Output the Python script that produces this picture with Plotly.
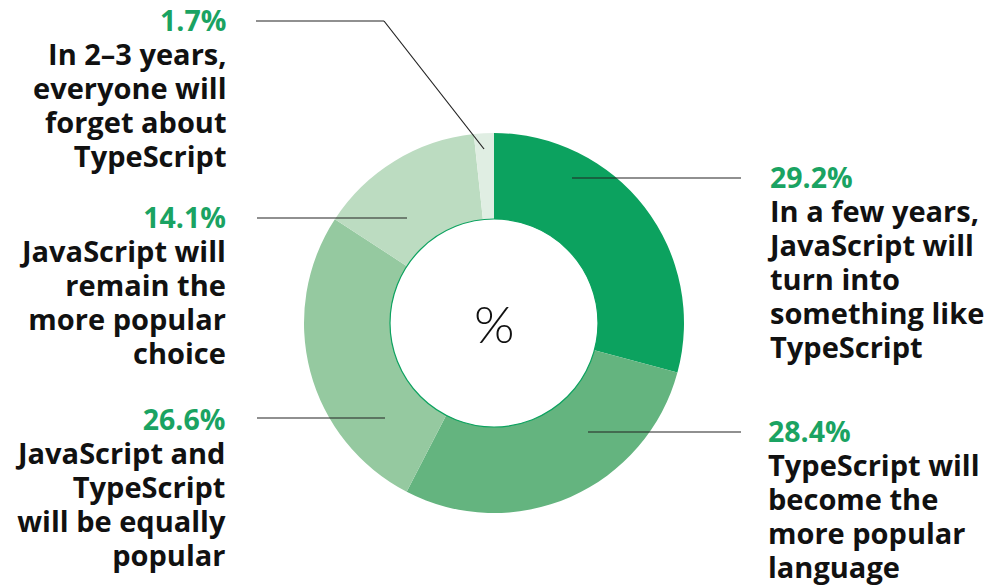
import plotly.graph_objects as go

# ---- data ----
label_lines = [
    ["In a few years,", "JavaScript will", "turn into", "something like", "TypeScript"],
    ["TypeScript will", "become the", "more popular", "language"],
    ["JavaScript and", "TypeScript", "will be equally", "popular"],
    ["JavaScript will", "remain the", "more popular", "choice"],
    ["In 2–3 years,", "everyone will", "forget about", "TypeScript"],
]
values = [29.2, 28.4, 26.6, 14.1, 1.7]
colors = ["#0ca25f", "#64b47f", "#95c9a0", "#bcdcc1", "#e0eee3"]

W, H = 991, 586
cx, cy, R, r_in = 494, 323, 190, 104

def px(x):
    return x / W

def py(y):
    return 1 - y / H

fig = go.Figure()
fig.add_trace(go.Pie(
    values=values,
    labels=[" ".join(l) for l in label_lines],
    marker=dict(colors=colors, line=dict(width=0)),
    sort=False,
    direction="clockwise",
    rotation=0,
    hole=r_in / R,
    textinfo="none",
    hoverinfo="label+percent",
    showlegend=False,
    domain=dict(x=[px(cx - R), px(cx + R)], y=[py(cy + R), py(cy - R)]),
))

# label placement: (x, baseline of percent line, align)
placements = [
    (766, 188, "left"),
    (767, 442, "left"),
    (227, 430, "right"),
    (227, 228, "right"),
    (227, 32, "right"),
]
# leader lines (pixel polyline)
leaders = [
    [(572, 178), (741, 178)],
    [(588, 432), (741, 432)],
    [(257, 418), (385, 418)],
    [(257, 218), (407, 218)],
    [(256, 21), (384, 21), (484, 149)],
]

FONT = "Open Sans"
TOP = 31.5  # distance from block top to first baseline
annotations = []
shapes = []
for lines, val, (x, base, al), pts in zip(label_lines, values, placements, leaders):
    xa = "left" if al == "left" else "right"
    body = "<br>".join(f"<span style='font-size:29px'>{ln}</span>" for ln in lines)
    text = (f"<span style='font-size:28.5px;color:#1aa362'>{val}%</span><br>" + body)
    annotations.append(dict(
        x=px(x), y=py(base - TOP), xref="paper", yref="paper",
        xanchor=xa, yanchor="top", align=al, showarrow=False,
        text=text, borderpad=0,
        font=dict(family=FONT, size=26.2, color="#111111", weight=700),
    ))
    for (x0, y0), (x1, y1) in zip(pts[:-1], pts[1:]):
        shapes.append(dict(type="line", xref="paper", yref="paper",
                           x0=px(x0), y0=py(y0), x1=px(x1), y1=py(y1),
                           line=dict(color="#222222", width=1.2)))

# inner hole outline
shapes.append(dict(type="circle", xref="paper", yref="paper",
                   x0=px(cx - r_in), x1=px(cx + r_in),
                   y0=py(cy + r_in), y1=py(cy - r_in),
                   line=dict(color="#0ca25f", width=1.2)))

annotations.append(dict(
    x=px(cx), y=py(cy), xref="paper", yref="paper",
    xanchor="center", yanchor="middle", showarrow=False, text="%",
    font=dict(family="Lato", size=52, color="#111111", weight=300),
))

fig.update_layout(
    width=W, height=H,
    margin=dict(l=0, r=0, t=0, b=0),
    paper_bgcolor="white", plot_bgcolor="white",
    annotations=annotations, shapes=shapes,
)

fig.write_html("out.html")
